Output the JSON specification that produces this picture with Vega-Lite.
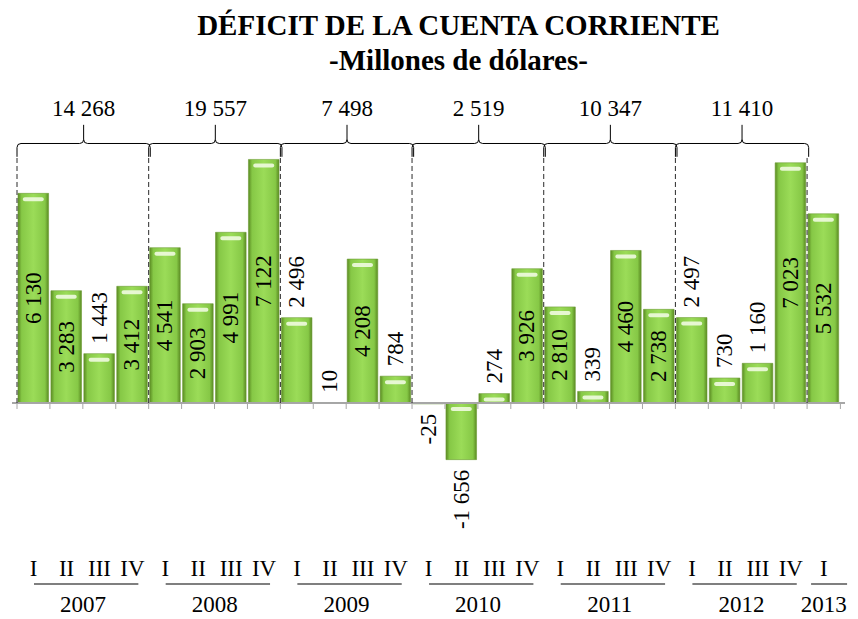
{
  "$schema": "https://vega.github.io/schema/vega-lite/v6.json",
  "width": 833,
  "height": 529,
  "autosize": {"type": "none"},
  "padding": {"left": 12, "top": 90, "right": 13, "bottom": 0},
  "title": {
    "text": "DÉFICIT DE LA CUENTA CORRIENTE",
    "subtitle": "-Millones de dólares-",
    "font": "Liberation Serif",
    "fontSize": 29,
    "fontWeight": "bold",
    "color": "black",
    "subtitleFont": "Liberation Serif",
    "subtitleFontSize": 29,
    "subtitleFontWeight": "bold",
    "subtitleColor": "black",
    "subtitlePadding": 6,
    "anchor": "middle",
    "frame": "group",
    "dx": 30,
    "offset": 14
  },
  "config": {
    "view": {"stroke": null},
    "locale": {"number": {"decimal": ",", "thousands": " ", "grouping": [3], "currency": ["", ""], "minus": "-"}},
    "text": {"font": "Liberation Serif", "fontSize": 23, "color": "black"}
  },
  "datasets": {
    "quarters": [
      {"year": 2007, "q": "I", "t": 2007.0, "value": 6130},
      {"year": 2007, "q": "II", "t": 2007.25, "value": 3283},
      {"year": 2007, "q": "III", "t": 2007.5, "value": 1443},
      {"year": 2007, "q": "IV", "t": 2007.75, "value": 3412},
      {"year": 2008, "q": "I", "t": 2008.0, "value": 4541},
      {"year": 2008, "q": "II", "t": 2008.25, "value": 2903},
      {"year": 2008, "q": "III", "t": 2008.5, "value": 4991},
      {"year": 2008, "q": "IV", "t": 2008.75, "value": 7122},
      {"year": 2009, "q": "I", "t": 2009.0, "value": 2496},
      {"year": 2009, "q": "II", "t": 2009.25, "value": 10},
      {"year": 2009, "q": "III", "t": 2009.5, "value": 4208},
      {"year": 2009, "q": "IV", "t": 2009.75, "value": 784},
      {"year": 2010, "q": "I", "t": 2010.0, "value": -25},
      {"year": 2010, "q": "II", "t": 2010.25, "value": -1656},
      {"year": 2010, "q": "III", "t": 2010.5, "value": 274},
      {"year": 2010, "q": "IV", "t": 2010.75, "value": 3926},
      {"year": 2011, "q": "I", "t": 2011.0, "value": 2810},
      {"year": 2011, "q": "II", "t": 2011.25, "value": 339},
      {"year": 2011, "q": "III", "t": 2011.5, "value": 4460},
      {"year": 2011, "q": "IV", "t": 2011.75, "value": 2738},
      {"year": 2012, "q": "I", "t": 2012.0, "value": 2497},
      {"year": 2012, "q": "II", "t": 2012.25, "value": 730},
      {"year": 2012, "q": "III", "t": 2012.5, "value": 1160},
      {"year": 2012, "q": "IV", "t": 2012.75, "value": 7023},
      {"year": 2013, "q": "I", "t": 2013.0, "value": 5532}
    ],
    "totals": [
      {"year": 2007, "total": 14268},
      {"year": 2008, "total": 19557},
      {"year": 2009, "total": 7498},
      {"year": 2010, "total": 2519},
      {"year": 2011, "total": 10347},
      {"year": 2012, "total": 11410}
    ]
  },
  "data": {"name": "quarters"},
  "layer": [
    {
      "layer": [
        {
          "mark": {
            "type": "bar",
            "width": 30.6,
            "xOffset": 16.3,
            "stroke": "#6f9e37",
            "strokeWidth": 0.6,
            "color": {
              "gradient": "linear",
              "x1": 0, "y1": 0, "x2": 1, "y2": 0,
              "stops": [
                {"offset": 0, "color": "#5a8a22"},
                {"offset": 0.12, "color": "#86c846"},
                {"offset": 0.5, "color": "#9bdc58"},
                {"offset": 0.88, "color": "#86c846"},
                {"offset": 1, "color": "#5a8a22"}
              ]
            }
          },
          "encoding": {
            "x": {"field": "t", "type": "quantitative", "scale": {"domain": [2007, 2013.25], "nice": false, "zero": false}, "axis": null},
            "y": {"field": "value", "type": "quantitative", "scale": {"domain": [-6316, 9152], "nice": false, "zero": false}, "axis": null},
            "y2": {"datum": 0}
          }
        },
        {
          "transform": [{"filter": "datum.value > 100"}],
          "mark": {"type": "tick", "orient": "horizontal", "xOffset": 16.3, "yOffset": 6, "size": 21, "thickness": 4, "color": "#effbe0", "opacity": 0.9, "cornerRadius": 2},
          "encoding": {
            "x": {"field": "t", "type": "quantitative", "scale": {"domain": [2007, 2013.25], "nice": false, "zero": false}, "axis": null},
            "y": {"field": "value", "type": "quantitative", "scale": {"domain": [-6316, 9152], "nice": false, "zero": false}, "axis": null}
          }
        },
        {
          "transform": [{"filter": "datum.value < -100"}],
          "mark": {"type": "tick", "orient": "horizontal", "xOffset": 16.3, "yOffset": 6, "size": 21, "thickness": 4, "color": "#effbe0", "opacity": 0.9, "cornerRadius": 2},
          "encoding": {
            "x": {"field": "t", "type": "quantitative", "scale": {"domain": [2007, 2013.25], "nice": false, "zero": false}, "axis": null},
            "y": {"datum": 0, "scale": {"domain": [-6316, 9152], "nice": false, "zero": false}, "axis": null}
          }
        },
        {
          "mark": {"type": "rule", "color": "#a6a6a6", "strokeWidth": 1},
          "encoding": {
            "y": {"datum": 0, "scale": {"domain": [-6316, 9152], "nice": false, "zero": false}, "axis": null}
          }
        },
        {
          "mark": {"type": "rule", "color": "#a6a6a6", "strokeWidth": 1, "y2Offset": 6},
          "encoding": {
            "x": {"field": "t", "type": "quantitative", "scale": {"domain": [2007, 2013.25], "nice": false, "zero": false}, "axis": null},
            "y": {"datum": 0, "scale": {"domain": [-6316, 9152], "nice": false, "zero": false}, "axis": null},
            "y2": {"datum": 0}
          }
        },
        {
          "mark": {"type": "rule", "color": "#a6a6a6", "strokeWidth": 1, "y2Offset": 6, "xOffset": 33.32},
          "encoding": {
            "x": {"aggregate": "max", "field": "t", "type": "quantitative", "scale": {"domain": [2007, 2013.25], "nice": false, "zero": false}, "axis": null},
            "y": {"datum": 0, "scale": {"domain": [-6316, 9152], "nice": false, "zero": false}, "axis": null},
            "y2": {"datum": 0}
          }
        },
        {
          "mark": {"type": "rule", "color": "#2a2a2a", "strokeWidth": 1, "strokeDash": [5, 3]},
          "encoding": {
            "x": {"aggregate": "min", "field": "t", "type": "quantitative", "scale": {"domain": [2007, 2013.25], "nice": false, "zero": false}, "axis": null},
            "detail": {"field": "year", "type": "nominal"},
            "y": {"datum": 0, "scale": {"domain": [-6316, 9152], "nice": false, "zero": false}, "axis": null},
            "y2": {"datum": 7193}
          }
        },
        {
          "data": {"name": "totals"},
          "mark": {
            "type": "point",
            "shape": "M -1 0.2 L -1 0.06 Q -1 0 -0.94 0 L -0.06 0 Q 0 0 0 -0.06 L 0 -0.28 M 0 -0.06 Q 0 0 0.06 0 L 0.94 0 Q 1 0 1 0.06 L 1 0.2",
            "filled": false,
            "stroke": "black",
            "strokeWidth": 1,
            "opacity": 1,
            "size": 17758,
            "xOffset": 66.64
          },
          "encoding": {
            "x": {"field": "year", "type": "quantitative", "scale": {"domain": [2007, 2013.25], "nice": false, "zero": false}, "axis": null},
            "y": {"datum": 7588, "scale": {"domain": [-6316, 9152], "nice": false, "zero": false}, "axis": null}
          }
        },
        {
          "data": {"name": "totals"},
          "mark": {"type": "text", "font": "Liberation Serif", "fontSize": 23, "xOffset": 66.64, "align": "center", "baseline": "alphabetic"},
          "encoding": {
            "x": {"field": "year", "type": "quantitative", "scale": {"domain": [2007, 2013.25], "nice": false, "zero": false}, "axis": null},
            "y": {"datum": 8400, "scale": {"domain": [-6316, 9152], "nice": false, "zero": false}, "axis": null},
            "text": {"field": "total", "type": "quantitative", "format": ",d"}
          }
        },
        {
          "mark": {"type": "text", "font": "Liberation Serif", "fontSize": 23, "xOffset": 16.66, "align": "center", "baseline": "alphabetic"},
          "encoding": {
            "x": {"field": "t", "type": "quantitative", "scale": {"domain": [2007, 2013.25], "nice": false, "zero": false}, "axis": null},
            "y": {"datum": -5058, "scale": {"domain": [-6316, 9152], "nice": false, "zero": false}, "axis": null},
            "text": {"field": "q", "type": "nominal"}
          }
        },
        {
          "transform": [{"filter": "datum.year < 2013"}],
          "mark": {"type": "rule", "color": "#7f7f7f", "strokeWidth": 2, "xOffset": 17, "x2Offset": 22.6},
          "encoding": {
            "x": {"aggregate": "min", "field": "t", "type": "quantitative", "scale": {"domain": [2007, 2013.25], "nice": false, "zero": false}, "axis": null},
            "x2": {"aggregate": "max", "field": "t"},
            "detail": {"field": "year", "type": "nominal"},
            "y": {"datum": -5292, "scale": {"domain": [-6316, 9152], "nice": false, "zero": false}, "axis": null}
          }
        },
        {
          "transform": [{"filter": "datum.year == 2013"}],
          "mark": {"type": "rule", "color": "#7f7f7f", "strokeWidth": 2, "xOffset": 4, "x2Offset": 40},
          "encoding": {
            "x": {"aggregate": "min", "field": "t", "type": "quantitative", "scale": {"domain": [2007, 2013.25], "nice": false, "zero": false}, "axis": null},
            "x2": {"aggregate": "max", "field": "t"},
            "detail": {"field": "year", "type": "nominal"},
            "y": {"datum": -5292, "scale": {"domain": [-6316, 9152], "nice": false, "zero": false}, "axis": null}
          }
        },
        {
          "mark": {"type": "text", "font": "Liberation Serif", "fontSize": 23, "xOffset": 16.66, "align": "center", "baseline": "alphabetic"},
          "encoding": {
            "x": {"aggregate": "mean", "field": "t", "type": "quantitative", "scale": {"domain": [2007, 2013.25], "nice": false, "zero": false}, "axis": null},
            "y": {"datum": -6111, "scale": {"domain": [-6316, 9152], "nice": false, "zero": false}, "axis": null},
            "text": {"field": "year", "type": "nominal"}
          }
        },
        {
          "transform": [{"filter": "datum.value >= 0 && datum.value < 2700"}],
          "mark": {"type": "text", "font": "Liberation Serif", "fontSize": 23, "angle": 270, "align": "left", "baseline": "middle", "dx": 10, "xOffset": 16.66},
          "encoding": {
            "x": {"field": "t", "type": "quantitative", "scale": {"domain": [2007, 2013.25], "nice": false, "zero": false}, "axis": null},
            "y": {"field": "value", "type": "quantitative", "scale": {"domain": [-6316, 9152], "nice": false, "zero": false}, "axis": null},
            "text": {"field": "value", "type": "quantitative", "format": ",d"}
          }
        },
        {
          "transform": [{"filter": "datum.value < 0"}],
          "mark": {"type": "text", "font": "Liberation Serif", "fontSize": 23, "angle": 270, "align": "right", "baseline": "middle", "dx": -10, "xOffset": 16.66},
          "encoding": {
            "x": {"field": "t", "type": "quantitative", "scale": {"domain": [2007, 2013.25], "nice": false, "zero": false}, "axis": null},
            "y": {"field": "value", "type": "quantitative", "scale": {"domain": [-6316, 9152], "nice": false, "zero": false}, "axis": null},
            "text": {"field": "value", "type": "quantitative", "format": ",d"}
          }
        }
      ]
    },
    {
      "transform": [{"filter": "datum.value >= 2700"}],
      "mark": {"type": "text", "font": "Liberation Serif", "fontSize": 23, "angle": 270, "align": "center", "baseline": "middle", "xOffset": 16.66},
      "encoding": {
        "x": {"field": "t", "type": "quantitative", "scale": {"domain": [2007, 2013.25], "nice": false, "zero": false}, "axis": null},
        "y": {"field": "value", "type": "quantitative", "scale": {"domain": [-12632, 18304], "nice": false, "zero": false}, "axis": null},
        "text": {"field": "value", "type": "quantitative", "format": ",d"}
      }
    }
  ],
  "resolve": {"scale": {"y": "independent"}}
}
